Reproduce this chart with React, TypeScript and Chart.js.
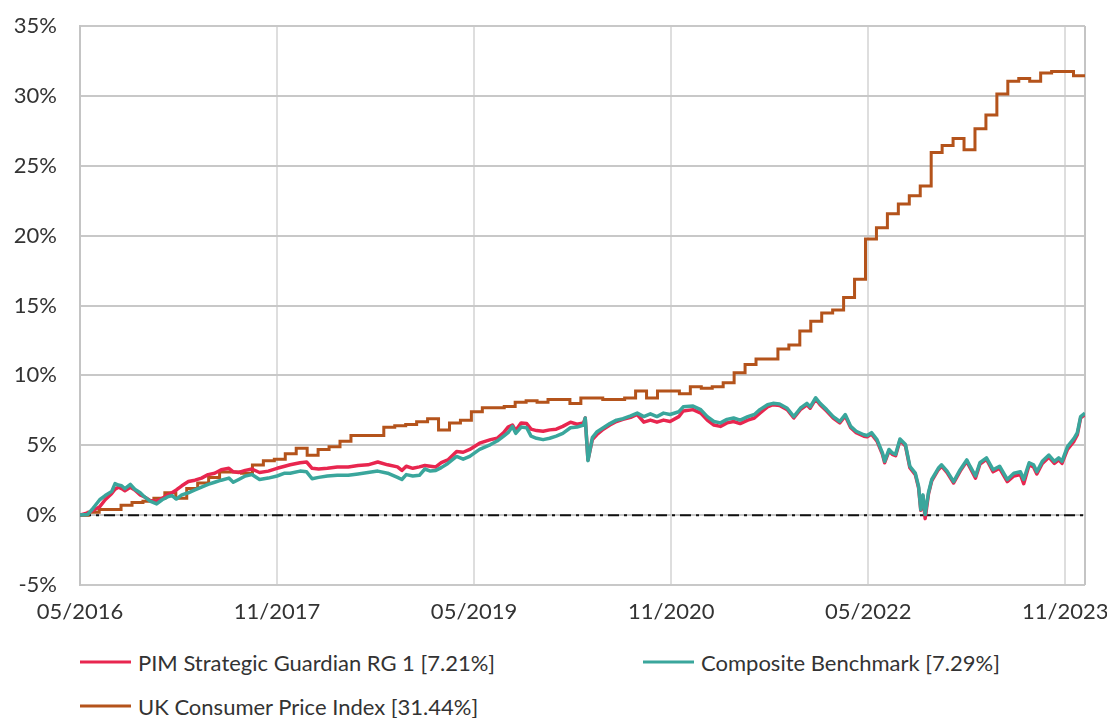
import React, { useEffect, useRef } from "react";
import { Chart, registerables } from "chart.js";

Chart.register(...registerables);

// ---- Axis / tick data ----
const xTickLabels = ["05/2016", "11/2017", "05/2019", "11/2020", "05/2022", "11/2023"];
const xTickMonths = [0, 18, 36, 54, 72, 90]; // months since 05/2016
const endMonth = 91.8;
const yTicks = [-5, 0, 5, 10, 15, 20, 25, 30, 35];

// ---- UK CPI cumulative change (%), monthly May 2016 .. Nov 2023 ----
const cpiReleaseLag = 0.75; // months after reference month that each figure appears
const cpiValues = [
  0.2, 0.4, 0.4, 0.7, 0.9, 1.0, 1.2, 1.6,
  1.2, 1.9, 2.3, 2.69, 3.09, 3.09, 2.99, 3.59, 3.89, 3.99, 4.39, 4.79,
  4.29, 4.69, 4.89, 5.29, 5.69, 5.69, 5.69, 6.29, 6.39, 6.49, 6.69, 6.89,
  6.09, 6.59, 6.79, 7.39, 7.68, 7.68, 7.78, 8.08, 8.18, 8.08, 8.28, 8.28,
  7.98, 8.38, 8.38, 8.28, 8.28, 8.38, 8.88, 8.38, 8.88, 8.88, 8.68, 9.18,
  9.08, 9.18, 9.48, 10.18, 10.78, 11.18, 11.18, 11.88, 12.18, 13.17, 13.87, 14.47,
  14.67, 15.57, 16.87, 19.76, 20.56, 21.56, 22.26, 22.85, 23.55, 25.95, 26.45, 26.95,
  26.15, 27.64, 28.64, 30.14, 31.04, 31.24, 31.04, 31.64, 31.74, 31.74, 31.44,
];

// ---- Fund & benchmark cumulative return (%), sampled through the period ----
const perfMonths = [
  0, 0.7, 1.1, 1.8, 2.3, 2.9, 3.2, 3.5, 3.8, 4.1,
  4.6, 5.0, 5.5, 5.9, 6.4, 7.0, 7.5, 8.0, 8.4, 8.8,
  9.3, 9.9, 10.5, 11.1, 11.7, 12.3, 12.9, 13.6, 14.0, 14.5,
  15.1, 15.7, 16.4, 17.2, 18.0, 18.7, 19.2, 20.1, 20.7, 21.2,
  21.8, 22.6, 23.5, 24.5, 25.4, 26.3, 27.2, 28.1, 29.0, 29.4,
  29.8, 30.4, 31.0, 31.5, 32.0, 32.5, 33.0, 33.6, 34.4, 35.0,
  35.6, 36.5, 37.5, 38.1, 38.7, 39.1, 39.5, 39.8, 40.3, 40.8,
  41.2, 41.7, 42.3, 42.9, 43.5, 44.1, 44.8, 45.4, 46.0, 46.15,
  46.4, 46.8, 47.2, 47.8, 48.4, 49.0, 49.6, 50.3, 50.9, 51.5,
  52.1, 52.7, 53.3, 53.9, 54.7, 55.1, 56.0, 56.7, 57.3, 57.9,
  58.5, 59.1, 59.7, 60.3, 61.0, 61.6, 62.1, 62.8, 63.3, 63.9,
  64.6, 65.2, 65.8, 66.4, 66.7, 67.2, 67.6, 68.2, 68.8, 69.4,
  69.9, 70.4, 70.9, 71.6, 71.9, 72.3, 72.8, 73.3, 73.5, 73.9,
  74.2, 74.5, 74.9, 75.4, 75.8, 76.3, 76.6, 76.8, 77.0, 77.2,
  77.5, 77.8, 78.4, 78.7, 79.2, 79.8, 80.4, 81.0, 81.3, 81.8,
  82.2, 82.8, 83.4, 84.0, 84.7, 85.3, 85.9, 86.2, 86.7, 87.1,
  87.4, 87.9, 88.5, 89.0, 89.4, 89.7, 90.2, 90.8, 91.1, 91.4,
  91.8,
];

const fundValues = [
  0, 0.15, 0.3, 0.6, 1.1, 1.55, 1.85, 2.0, 1.9, 1.75,
  2.0, 1.8, 1.45, 1.3, 1.05, 1.0, 1.2, 1.45, 1.6, 1.8,
  2.1, 2.4, 2.5, 2.65, 2.9, 3.0, 3.25, 3.35, 3.1, 3.05,
  3.2, 3.3, 3.05, 3.15, 3.35, 3.5, 3.6, 3.75, 3.8, 3.35,
  3.3, 3.35, 3.45, 3.45, 3.55, 3.6, 3.8, 3.6, 3.45, 3.2,
  3.5, 3.35, 3.45, 3.55, 3.5, 3.45, 3.75, 3.95, 4.55, 4.5,
  4.7, 5.15, 5.4, 5.5, 5.9, 6.3, 6.45, 6.05, 6.6, 6.55,
  6.15, 6.05, 6.0, 6.1, 6.15, 6.35, 6.65, 6.5, 6.6, 6.95,
  3.95, 5.4, 5.75, 6.15, 6.45, 6.7, 6.85, 7.0, 7.2, 6.65,
  6.8, 6.65, 6.8, 6.7, 7.05, 7.45, 7.55, 7.3, 6.8, 6.45,
  6.35, 6.6, 6.7, 6.55, 6.8, 6.95, 7.3, 7.75, 7.9, 7.85,
  7.55, 6.95, 7.55, 7.9, 7.65, 8.3, 7.9, 7.45, 6.95, 6.6,
  7.1, 6.25, 5.9, 5.65, 5.6, 5.8, 5.3, 4.35, 3.75, 4.6,
  4.35, 4.25, 5.35, 4.95, 3.4, 2.9, 1.95, 0.35, 1.35, -0.25,
  1.5, 2.45, 3.25, 3.5, 3.05, 2.3, 3.15, 3.85, 3.4, 2.65,
  3.65, 4.0, 3.1, 3.35, 2.4, 2.8, 2.9, 2.25, 3.6, 3.45,
  2.95, 3.7, 4.15, 3.7, 3.95, 3.7, 4.7, 5.3, 5.75, 6.95,
  7.21,
];

const benchValues = [
  0, 0.05, 0.4, 1.1, 1.4, 1.7, 2.25, 2.15, 2.1, 1.9,
  2.2, 1.85, 1.6, 1.3, 1.0, 0.8, 1.1, 1.3, 1.4, 1.15,
  1.45, 1.6, 1.8, 2.0, 2.2, 2.35, 2.5, 2.65, 2.35, 2.55,
  2.8, 2.9, 2.55, 2.65, 2.8, 3.0, 3.0, 3.15, 3.1, 2.6,
  2.7, 2.8, 2.85, 2.85, 2.95, 3.05, 3.15, 3.0, 2.7, 2.55,
  2.9, 2.8, 2.85, 3.3, 3.15, 3.2, 3.4, 3.7, 4.2, 4.0,
  4.2, 4.7, 5.05, 5.3, 5.65, 5.9, 6.35, 5.85, 6.3, 6.25,
  5.65, 5.5, 5.4, 5.5, 5.65, 5.85, 6.25, 6.3, 6.45, 6.95,
  3.9, 5.55, 5.95, 6.25, 6.55, 6.8, 6.9, 7.1, 7.3, 7.05,
  7.25, 7.05, 7.3, 7.2, 7.4, 7.75, 7.8, 7.55, 7.05, 6.7,
  6.6, 6.85, 6.95, 6.8, 7.05, 7.2, 7.55, 7.9, 8.0, 7.95,
  7.65, 7.05, 7.65, 8.0, 7.75, 8.4, 8.0, 7.55, 7.05, 6.7,
  7.2, 6.35, 6.0, 5.75, 5.7, 5.9, 5.4, 4.45, 3.85, 4.7,
  4.45, 4.35, 5.45, 5.05, 3.5, 3.0, 2.05, 0.4, 1.45, 0.05,
  1.6, 2.55, 3.35, 3.6, 3.15, 2.4, 3.25, 3.95, 3.5, 2.8,
  3.75, 4.1, 3.25, 3.5, 2.55, 3.0, 3.1, 2.55, 3.75, 3.6,
  3.1, 3.85, 4.3, 3.85, 4.1, 3.85, 4.9, 5.5, 5.9, 7.05,
  7.29,
];

const seriesNames = [
  "PIM Strategic Guardian RG 1 [7.21%]",
  "Composite Benchmark [7.29%]",
  "UK Consumer Price Index [31.44%]",
];
const seriesColors = ["#e8264f", "#3aa69c", "#b4531b"];

const FONT = "Lato, 'Open Sans', sans-serif";
const TEXT = "#333333";

const rightBorder = {
  id: "rightBorder",
  beforeDatasetsDraw(chart: any) {
    const { ctx, chartArea } = chart;
    ctx.save();
    ctx.strokeStyle = "#c4c4c4";
    ctx.lineWidth = 2;
    ctx.beginPath();
    ctx.moveTo(chartArea.right, chartArea.top);
    ctx.lineTo(chartArea.right, chartArea.bottom);
    ctx.stroke();
    ctx.restore();
  },
};

export default function App() {
  const ref = useRef<HTMLCanvasElement | null>(null);

  useEffect(() => {
    if (!ref.current) return;
    const fund = perfMonths.map((m, i) => ({ x: m, y: fundValues[i] }));
    const bench = perfMonths.map((m, i) => ({ x: m, y: benchValues[i] }));
    const cpi = [{ x: 0, y: 0 }]
      .concat(cpiValues.map((v, i) => ({ x: i + cpiReleaseLag, y: v })))
      .concat([{ x: endMonth, y: cpiValues[cpiValues.length - 1] }]);
    const zero = [
      { x: 0, y: 0 },
      { x: endMonth, y: 0 },
    ];

    const chart = new Chart(ref.current, {
      type: "line",
      data: {
        datasets: [
          {
            label: seriesNames[1],
            data: bench,
            borderColor: seriesColors[1],
            borderWidth: 3.5,
            pointRadius: 0,
            tension: 0,
            borderJoinStyle: "round",
            order: 0,
          },
          {
            label: seriesNames[0],
            data: fund,
            borderColor: seriesColors[0],
            borderWidth: 3.5,
            pointRadius: 0,
            tension: 0,
            borderJoinStyle: "round",
            order: 1,
          },
          {
            label: seriesNames[2],
            data: cpi,
            borderColor: seriesColors[2],
            borderWidth: 3,
            pointRadius: 0,
            stepped: "before",
            order: 2,
          },
          {
            label: "zero",
            data: zero,
            borderColor: "#111111",
            borderWidth: 2,
            borderDash: [11, 5, 3, 5],
            pointRadius: 0,
            order: 3,
          },
        ],
      },
      options: {
        animation: false,
        responsive: false,
        devicePixelRatio: 1,
        layout: { padding: { top: 26, right: 22, left: 0, bottom: 0 } },
        plugins: {
          legend: { display: false },
          tooltip: { enabled: false },
        },
        scales: {
          x: {
            type: "linear",
            min: 0,
            max: endMonth,
            afterBuildTicks: (s: any) => {
              s.ticks = xTickMonths.map((v) => ({ value: v }));
            },
            afterFit: (s: any) => {
              s.height = 55;
              s.paddingLeft = 0;
              s.paddingRight = 0;
            },
            ticks: {
              autoSkip: false,
              maxRotation: 0,
              padding: 14,
              color: TEXT,
              font: { family: FONT, size: 22 },
              callback: (v: any) => xTickLabels[xTickMonths.indexOf(Number(v))] ?? "",
            },
            grid: { color: "#dedede", lineWidth: 2, drawTicks: false },
            border: { display: false },
          },
          y: {
            min: -5,
            max: 35,
            afterBuildTicks: (s: any) => {
              s.ticks = yTicks.map((v) => ({ value: v }));
            },
            afterFit: (s: any) => {
              s.width = 80;
              s.paddingTop = 0;
              s.paddingBottom = 0;
            },
            ticks: {
              padding: 23,
              color: TEXT,
              font: { family: FONT, size: 22 },
              callback: (v: any) => `${v}%`,
            },
            grid: { color: "#c8c8c8", lineWidth: 2, drawTicks: false },
            border: { color: "#c4c4c4", width: 2 },
          },
        },
      },
      plugins: [rightBorder],
    } as any);
    return () => chart.destroy();
  }, []);

  const legendItem = (i: number) => (
    <div style={{ display: "flex", alignItems: "center" }}>
      <div style={{ width: 51, height: 3, background: seriesColors[i], marginRight: 7 }} />
      <span style={{ fontFamily: FONT, fontSize: 22, color: TEXT, whiteSpace: "nowrap" }}>
        {seriesNames[i]}
      </span>
    </div>
  );

  return (
    <div
      style={{
        position: "fixed",
        left: 0,
        top: 0,
        width: 1107,
        height: 718,
        background: "#ffffff",
        overflow: "hidden",
      }}
    >
      <canvas ref={ref} width={1107} height={640} style={{ display: "block" }} />
      <div style={{ position: "absolute", left: 80, top: 662, transform: "translateY(-50%)" }}>
        {legendItem(0)}
      </div>
      <div style={{ position: "absolute", left: 643, top: 662, transform: "translateY(-50%)" }}>
        {legendItem(1)}
      </div>
      <div style={{ position: "absolute", left: 80, top: 706, transform: "translateY(-50%)" }}>
        {legendItem(2)}
      </div>
    </div>
  );
}
